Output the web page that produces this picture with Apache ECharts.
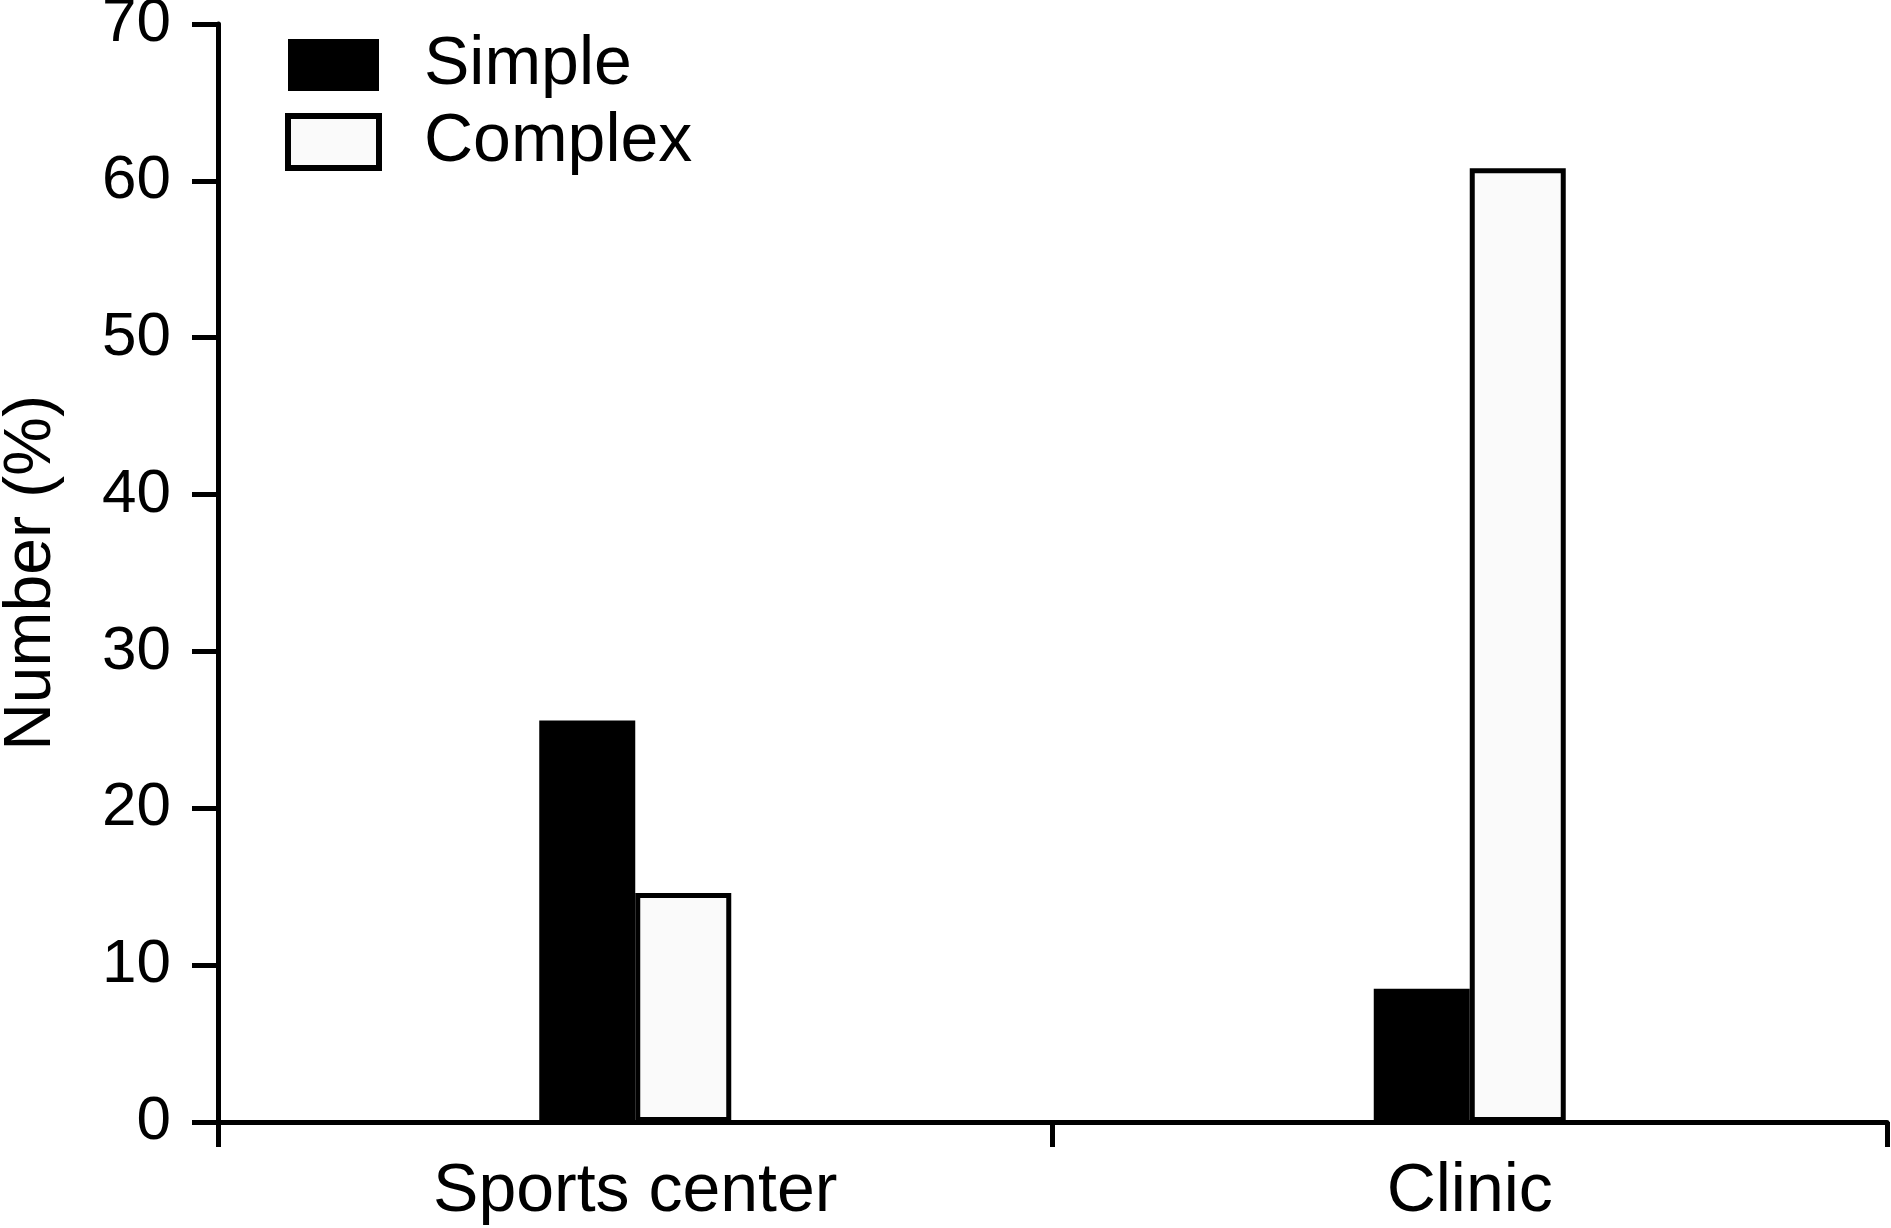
<!DOCTYPE html>
<html>
<head>
<meta charset="utf-8">
<script src="https://cdn.jsdelivr.net/npm/echarts@6/dist/echarts.min.js"></script>
<style>html,body{margin:0;padding:0;background:#fff}#c{width:1891px;height:1228px}</style>
</head>
<body>
<div id="c"></div>
<script>
const categories = ['Sports center', 'Clinic'];
const simpleValues = [25.6, 8.5];
const complexValues = [14.6, 60.8];
const seriesNames = ['Simple', 'Complex'];
const yAxisName = 'Number (%)';

const FONT = '"Liberation Sans", Arial, sans-serif';
const chart = echarts.init(document.getElementById('c'), null, {renderer: 'canvas'});
chart.setOption({
  animation: false,
  backgroundColor: '#ffffff',
  grid: {left: 218, right: 4, top: 24, bottom: 106, containLabel: false, outerBoundsMode: 'none'},
  legend: {
    orient: 'vertical', left: 280, top: 26,
    itemWidth: 91, itemHeight: 52, itemGap: 9, icon: 'rect',
    textStyle: {fontFamily: FONT, fontSize: 68, color: '#000', padding: [32, 0, 0, 40]},
    data: [
      {name: seriesNames[0]},
      {name: seriesNames[1], itemStyle: {borderColor: '#000', borderWidth: 6}}
    ]
  },
  xAxis: {
    type: 'category', data: categories, boundaryGap: true,
    axisLine: {lineStyle: {color: '#000', width: 5}},
    axisTick: {show: true, length: 25, lineStyle: {color: '#000', width: 5}},
    axisLabel: {fontFamily: FONT, fontSize: 68, color: '#000', margin: 36}
  },
  yAxis: {
    type: 'value', min: 0, max: 70, interval: 10,
    name: yAxisName, nameLocation: 'middle', nameGap: 153,
    nameTextStyle: {fontFamily: FONT, fontSize: 66, color: '#000'},
    axisLine: {show: true, lineStyle: {color: '#000', width: 5}},
    axisTick: {show: true, length: 26, lineStyle: {color: '#000', width: 5}},
    axisLabel: {fontFamily: FONT, fontSize: 62, color: '#000', margin: 47},
    splitLine: {show: false}
  },
  series: [
    {name: seriesNames[0], type: 'bar', data: simpleValues, barWidth: 96, barGap: '0%',
     itemStyle: {color: '#000'}},
    {name: seriesNames[1], type: 'bar', data: complexValues, barWidth: 96, barGap: '0%',
     itemStyle: {color: '#fafafa', borderColor: '#000', borderWidth: 5}}
  ]
});
</script>
</body>
</html>
